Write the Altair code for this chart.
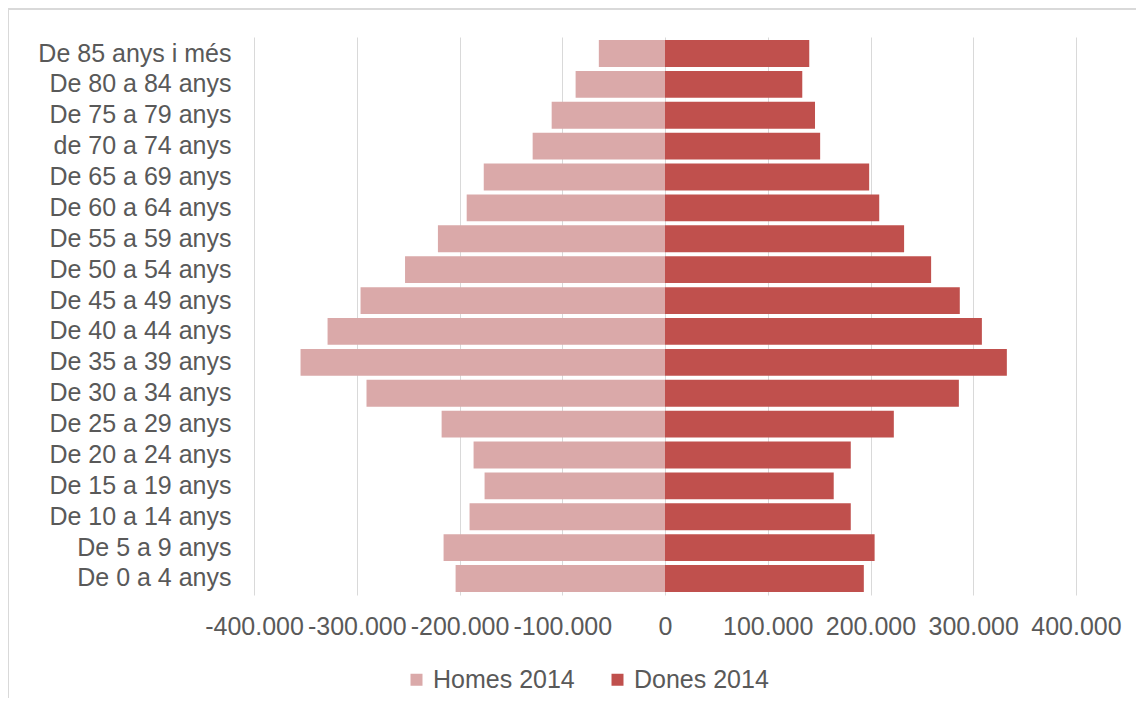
import altair as alt
import pandas as pd

categories = [
    "De 85 anys i més", "De 80 a 84 anys", "De 75 a 79 anys", "de 70 a 74 anys",
    "De 65 a 69 anys", "De 60 a 64 anys", "De 55 a 59 anys", "De 50 a 54 anys",
    "De 45 a 49 anys", "De 40 a 44 anys", "De 35 a 39 anys", "De 30 a 34 anys",
    "De 25 a 29 anys", "De 20 a 24 anys", "De 15 a 19 anys", "De 10 a 14 anys",
    "De 5 a 9 anys", "De 0 a 4 anys",
]
homes_2014 = [64400, 87000, 110300, 128800, 176400, 193000, 221000, 253000,
              296300, 328400, 354700, 290500, 217400, 186300, 175600, 190200,
              215500, 203800]
dones_2014 = [140400, 133600, 146000, 151000, 198700, 208500, 232700, 259000,
              286900, 308400, 332700, 286000, 222700, 180800, 164200, 180800,
              204000, 193500]
series = ["Homes 2014", "Dones 2014"]
colors = ["#DAA9A9", "#C0504D"]
x_ticks = [-400000, -300000, -200000, -100000, 0, 100000, 200000, 300000, 400000]

rows = []
for c, h, d in zip(categories, homes_2014, dones_2014):
    rows.append({"grup": c, "serie": series[0], "valor": -h})
    rows.append({"grup": c, "serie": series[1], "valor": d})
df = pd.DataFrame(rows)

FONT = "Liberation Sans"
TXT = "#595959"
FS = 25
W, H = 822, 558
PL, PT = 246, 29

label_expr = ("datum.value == 0 ? '0' : (datum.value < 0 ? '-' : '') + "
              "replace(format(abs(datum.value), ','), ',', '.')")

bars = alt.Chart(df).mark_bar().encode(
    y=alt.Y("grup:N", sort=categories, title=None,
            scale=alt.Scale(paddingInner=0.13, paddingOuter=0.1),
            axis=alt.Axis(domain=False, ticks=False, grid=False,
                          labelFont=FONT, labelFontSize=FS, labelColor=TXT,
                          labelPadding=23, labelAlign="right", labelLimit=300)),
    x=alt.X("valor:Q", stack=None, title=None,
            scale=alt.Scale(domain=[-400000, 400000], nice=False),
            axis=alt.Axis(values=x_ticks, labelExpr=label_expr,
                          domain=False, ticks=False, grid=True,
                          gridColor="#D9D9D9", gridWidth=1,
                          labelFont=FONT, labelFontSize=FS, labelColor=TXT,
                          labelPadding=19, labelFlush=False, labelOverlap=False)),
    color=alt.Color("serie:N", sort=series,
                    scale=alt.Scale(domain=series, range=colors),
                    legend=alt.Legend(title=None, orient="none",
                                      direction="horizontal",
                                      legendX=150, legendY=630,
                                      symbolType="square", symbolSize=144,
                                      symbolStrokeWidth=0,
                                      labelFont=FONT, labelFontSize=FS,
                                      labelColor=TXT, labelOffset=4,
                                      columnPadding=30)),
    order=alt.Order("serie:N"),
)

frame = alt.Chart(pd.DataFrame({"k": [0]})).mark_rect(
    fill=None, stroke="#D9D9D9", strokeWidth=2, clip=False
).encode(
    x=alt.value(-246), x2=alt.value(W + 200),
    y=alt.value(-28), y2=alt.value(H + 300),
)

chart = alt.layer(frame, bars).properties(
    width=W, height=H,
    autosize=alt.AutoSizeParams(type="none"),
    padding={"left": PL, "top": PT, "right": 1128 - PL - W, "bottom": 690 - PT - H},
    background="white",
).configure_view(stroke=None)

chart.save("out.html", embed_options={"renderer": "svg", "actions": False})
